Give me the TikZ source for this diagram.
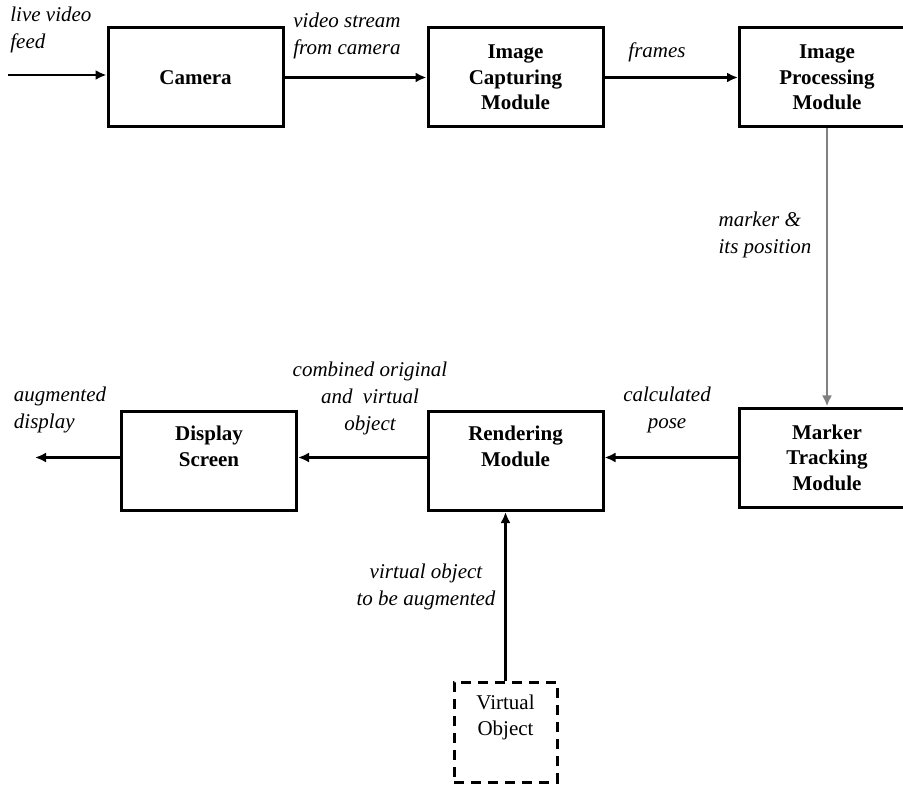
\documentclass[tikz,border=0pt]{standalone}
\usepackage{fontspec}
\setmainfont{Liberation Serif}
\usetikzlibrary{arrows.meta, calc}
\tikzset{
  blk/.style={draw, line width=1.5pt, minimum width=87.5pt, minimum height=49.5pt,
    align=center, inner sep=0pt, font=\fontsize{10.5}{12.8}\selectfont\bfseries},
  lbl/.style={inner sep=0pt, font=\fontsize{10.5}{13.5}\selectfont\itshape},
  flow/.style={line width=1.1pt, -{Latex[length=5.5pt,width=5pt]}},
}

\begin{document}
\begin{tikzpicture}[x=0.5pt, y=-0.5pt]
\useasboundingbox (0,0) rectangle (903,785);
\clip (0,0) rectangle (903,785);
\node[blk] (cam) at (195.5,77.5) {Camera};
\node[blk] (cap) at (515.5,77.5) {Image\\Capturing\\Module};
\node[blk] (proc) at (827,77.5) {Image\\Processing\\Module};
\node[blk] (trk) at (827,457.5) {Marker\\Tracking\\Module};
\node[blk, text depth=15pt] (rend) at (515.5,461) {Rendering\\Module};
\node[blk, text depth=15pt] (disp) at (209,461) {Display\\Screen};
\node[blk, dash pattern=on 5pt off 3.5pt, minimum width=51.5pt, minimum height=50pt,
  text depth=17pt, font=\fontsize{10.5}{12.8}\selectfont] (virt) at (505.5,732) {Virtual\\Object};
\coordinate (feed) at (8,75);
\coordinate (aug) at (35,457.5);
\draw[flow] (feed) -- (feed -| cam.west);
\draw[flow] (cam) -- (cap);
\draw[flow] (cap) -- (proc);
\draw[flow, gray] (proc) -- (trk);
\draw[flow] (trk.west) -- (trk.west -| rend.east);
\draw[flow] (rend.west |- trk.west) -- (disp.east |- trk.west);
\draw[flow] (disp.west |- aug) -- (aug);
\draw[flow] (virt.north) -- (virt.north |- rend.south);
\node[lbl, anchor=north west, align=left] (feedtxt) at (10,7) {live video\\feed};
\node[lbl, anchor=north west, align=left] (streamtxt) at (293,13) {video stream\\from camera};
\node[lbl] (framestxt) at (657,52) {frames};
\node[lbl, align=left] (markertxt) at (765,235) {marker \&\\its position};
\node[lbl, align=center] (combtxt) at (370,398) {combined original\\and\ \ virtual\\object};
\node[lbl, align=left] (augtxt) at (60,410) {augmented\\display};
\node[lbl, align=center] (posetxt) at (667,410) {calculated\\pose};
\node[lbl, align=center] (virttxt) at (426,587) {virtual object\\to be augmented};
\end{tikzpicture}
\end{document}
